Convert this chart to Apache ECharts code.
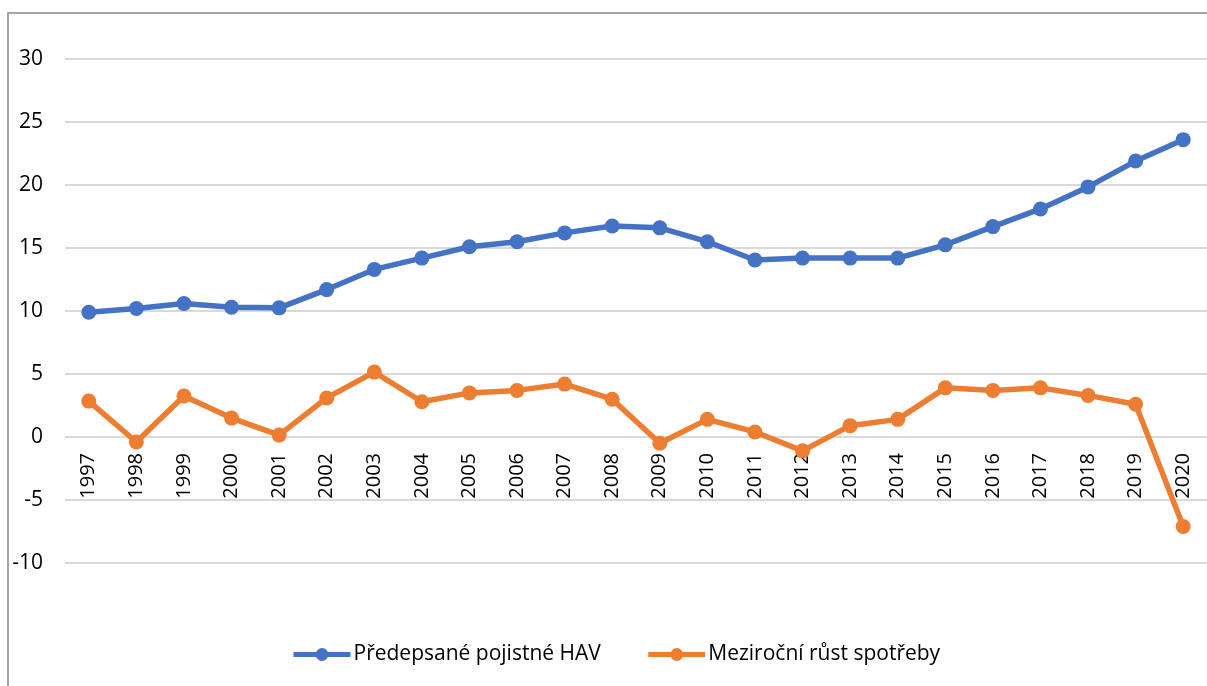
<!DOCTYPE html>
<html>
<head>
<meta charset="utf-8">
<script src="https://cdn.jsdelivr.net/npm/echarts@6/dist/echarts.min.js"></script>
<style>
    html, body { margin: 0; padding: 0; background: #fff; }
    #wrap { position: relative; width: 1207px; height: 686px; overflow: hidden; }
    #chart { width: 1207px; height: 686px; }
    #frame {
        position: absolute; left: 7px; top: 12px; width: 1300px; height: 800px;
        border-left: 2px solid #a6a6a6; border-top: 2px solid #a6a6a6;
        pointer-events: none;
    }
</style>
</head>
<body>
<div id="wrap">
    <div id="chart"></div>
    <div id="frame"></div>
</div>
<script>
const years = ['1997', '1998', '1999', '2000', '2001', '2002', '2003', '2004', '2005', '2006', '2007', '2008',
    '2009', '2010', '2011', '2012', '2013', '2014', '2015', '2016', '2017', '2018', '2019', '2020'];
const pojistne = [9.9, 10.2, 10.6, 10.3, 10.25, 11.7, 13.3, 14.2, 15.1, 15.5, 16.2, 16.75,
    16.6, 15.5, 14.05, 14.2, 14.2, 14.2, 15.25, 16.7, 18.1, 19.85, 21.9, 23.6];
const spotreba = [2.85, -0.4, 3.25, 1.5, 0.15, 3.1, 5.15, 2.8, 3.5, 3.7, 4.2, 3.0,
    -0.5, 1.4, 0.4, -1.1, 0.9, 1.4, 3.9, 3.7, 3.9, 3.3, 2.6, -7.1];
const seriesNames = ['Předepsané pojistné HAV', 'Meziroční růst spotřeby'];
const colors = ['#4472c4', '#ed7d31'];

const chart = echarts.init(document.getElementById('chart'));
const font = '"Open Sans", "Noto Sans", sans-serif';

function lineSeries(name, data, color) {
    return {
        name: name,
        type: 'line',
        data: data,
        symbol: 'circle',
        symbolSize: 15,
        lineStyle: { width: 5.5, color: color },
        itemStyle: { color: color },
        z: 3
    };
}

chart.setOption({
    animation: false,
    color: colors,
    textStyle: { fontFamily: font },
    grid: {
        left: 65,
        top: 59,
        width: 1151,
        height: 504
    },
    legend: {
        bottom: 16,
        left: 286,
        itemWidth: 57,
        itemHeight: 16,
        itemGap: 45,
        lineStyle: { width: 5 },
        textStyle: { fontSize: 21, color: '#000', fontFamily: font, padding: [0, 0, 0, -2] },
        data: seriesNames
    },
    xAxis: {
        type: 'category',
        data: years,
        boundaryGap: true,
        // labels sit on the zero line, like in the original
        offset: -126,
        axisLine: { show: false, onZero: false },
        axisTick: { show: false },
        axisLabel: {
            rotate: 90,
            fontSize: 20,
            color: '#000',
            margin: 16,
            interval: 0
        }
    },
    yAxis: {
        type: 'value',
        min: -10,
        max: 30,
        interval: 5,
        axisLine: { show: false },
        axisTick: { show: false },
        splitLine: { lineStyle: { color: '#d9d9d9', width: 2 } },
        axisLabel: { fontSize: 21, color: '#000', margin: 22 }
    },
    series: [
        lineSeries(seriesNames[0], pojistne, colors[0]),
        lineSeries(seriesNames[1], spotreba, colors[1])
    ]
});
</script>
</body>
</html>
